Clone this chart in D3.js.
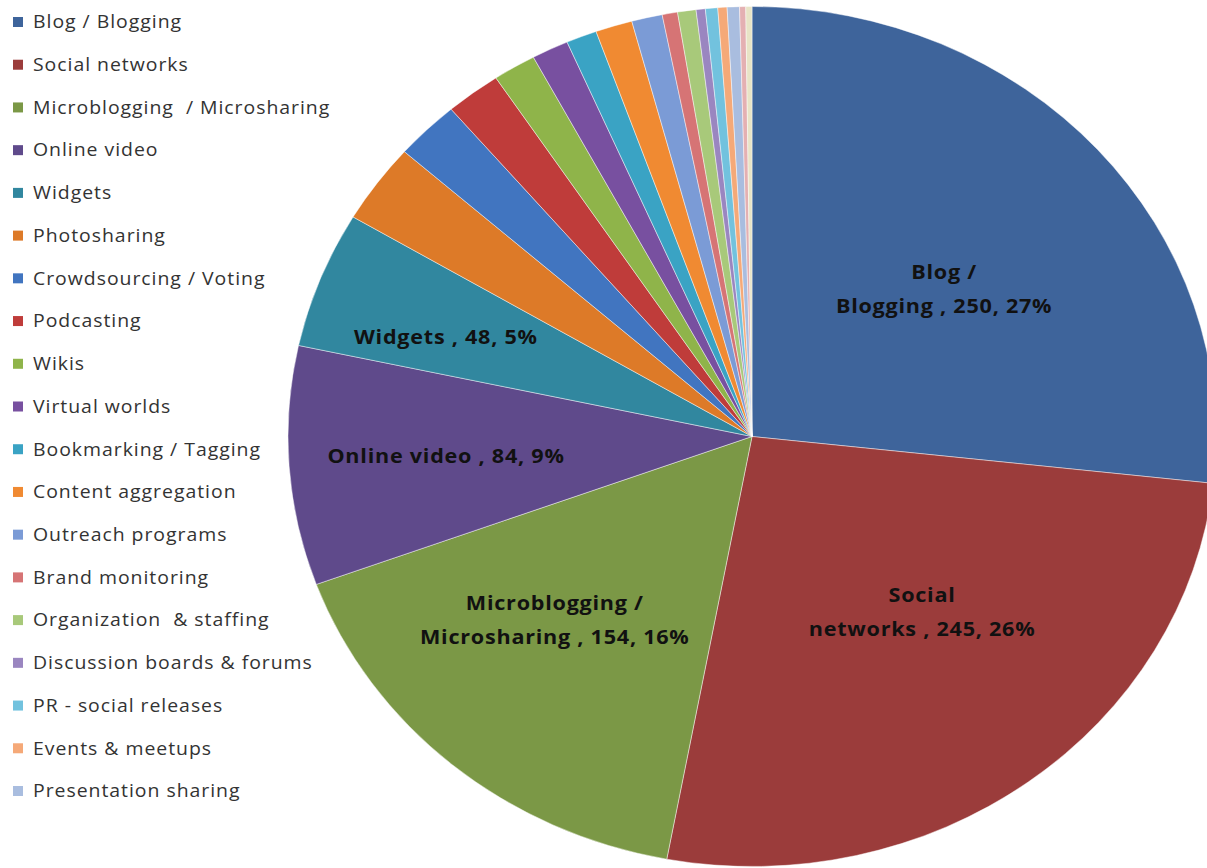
<!DOCTYPE html>
<html>
<head>
<meta charset="utf-8">
<script src="https://cdn.jsdelivr.net/npm/d3@7"></script>
<style>
  body { margin: 0; background: #fff; }
  svg { display: block; }
</style>
</head>
<body>
<svg id="chart" width="1207" height="868"></svg>
<script>
// categories as listed in the legend
const categories = [
  "Blog / Blogging", "Social networks", "Microblogging  / Microsharing", "Online video",
  "Widgets", "Photosharing", "Crowdsourcing / Voting", "Podcasting", "Wikis",
  "Virtual worlds", "Bookmarking / Tagging", "Content aggregation", "Outreach programs",
  "Brand monitoring", "Organization  & staffing", "Discussion boards & forums",
  "PR - social releases", "Events & meetups", "Presentation sharing"
];
const values = [250, 245, 154, 84, 48, 28, 21, 18, 14, 12, 10, 12, 10, 5, 6, 3, 4, 3, 4];

// two tiny slices at the end that the legend does not list
const unlistedValues = [2, 2];

const colors = [
  "#3e649b", "#9b3c3b", "#7b9846", "#5f4a8b", "#31879f", "#dd7a28", "#4175c0",
  "#bf3c3a", "#8fb44a", "#7850a0", "#3aa3c4", "#f08a32", "#7b9bd6", "#d67475",
  "#a8c97a", "#9a86c0", "#72c2de", "#f5a978", "#a9bddf"
];
const unlistedColors = ["#e4b0b2", "#e8e4c6"];

// which slices get a data label
const labelled = [0, 1, 2, 3, 4];

// label spot as fraction of the radius (x, y)
const labelSpot = [[0.556, 0.514], [0.615, 0.508], [0.658, 0.559], [0.661, 0.65], [0.709, 0.632]];

let svg = d3.select("#chart");

let cx = 752, cy = 436.5, rx = 464, ry = 430;
let stretch = 1.08; // the original picture is a bit wider than tall

let slices = categories.map((c, i) => ({ name: c, value: values[i], color: colors[i] }))
  .concat(unlistedValues.map((v, i) => ({ name: "", value: v, color: unlistedColors[i] })));

let total = d3.sum(slices, d => d.value);

let pie = d3.pie().sort(null).value(d => d.value);
let arcs = pie(slices);

let arc = d3.arc().innerRadius(0).outerRadius(ry);

let pieGroup = svg.append("g")
  .attr("transform", `translate(${cx}, ${cy}) scale(${rx / ry}, 1)`);

pieGroup.selectAll("path")
  .data(arcs)
  .join("path")
  .attr("d", arc)
  .attr("fill", d => d.data.color)
  .attr("stroke", "rgba(255,255,255,0.45)")
  .attr("stroke-width", 1)
  .attr("vector-effect", "non-scaling-stroke");

// data labels
labelled.forEach((idx, k) => {
  let a = arcs[idx];
  let mid = (a.startAngle + a.endAngle) / 2;
  let x = cx + Math.sin(mid) * rx * labelSpot[k][0];
  let y = cy - Math.cos(mid) * ry * labelSpot[k][1];
  let pct = Math.round(a.data.value / total * 100);
  let words = a.data.name.split(" ");
  let full = `${a.data.name} , ${a.data.value}, ${pct}%`;
  let lines = full.length > 22
    ? [words.slice(0, -1).join(" "), `${words[words.length - 1]} , ${a.data.value}, ${pct}%`]
    : [full];

  let t = svg.append("text")
    .attr("transform", `translate(${x}, ${y}) scale(${stretch}, 1)`)
    .attr("text-anchor", "middle")
    .attr("font-family", "'Open Sans', sans-serif")
    .attr("font-weight", "bold")
    .attr("font-size", 20)
    .attr("letter-spacing", 0.7)
    .attr("fill", "#111");

  lines.forEach((ln, j) => {
    t.append("tspan")
      .attr("x", 0)
      .attr("y", lines.length === 1 ? 7 : -10 + j * 34)
      .text(ln);
  });
});

// legend
let legendY = d3.scalePoint()
  .domain(categories)
  .range([22, 791]);

let legend = svg.append("g");

let rows = legend.selectAll("g")
  .data(categories)
  .join("g")
  .attr("transform", d => `translate(0, ${legendY(d)})`);

rows.append("rect")
  .attr("x", 13)
  .attr("y", -5)
  .attr("width", 10)
  .attr("height", 10)
  .attr("fill", (d, i) => colors[i]);

rows.append("text")
  .attr("transform", `translate(33, 0) scale(${stretch}, 1)`)
  .attr("dy", "0.35em")
  .attr("font-family", "'Open Sans', sans-serif")
  .attr("font-size", 18)
  .attr("letter-spacing", 0.9)
  .attr("fill", "#333")
  .style("white-space", "pre")
  .text(d => d);
</script>
</body>
</html>
